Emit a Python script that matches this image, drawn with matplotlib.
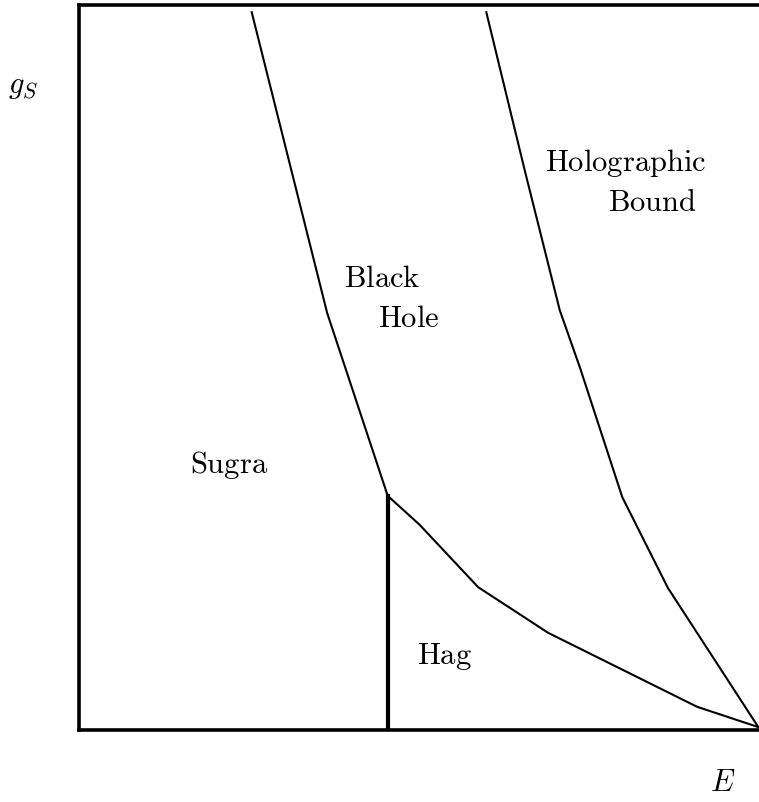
"""
Phase diagram sketch: string coupling g_S versus energy E.
"""
import matplotlib
matplotlib.use("Agg")
import matplotlib.pyplot as plt

plt.rcParams["mathtext.fontset"] = "cm"

# Black-hole / sugra boundary
bh_E = [25.4, 36.5, 45.4]
bh_g = [99.0, 57.5, 32.3]

# Hagedorn / black-hole boundary
hag_E = [45.4, 50.1, 58.7, 69.0, 90.9, 99.9]
hag_g = [32.3, 28.3, 19.7, 13.4, 3.2, 0.4]

# Holographic bound
holo_E = [59.9, 65.6, 70.7, 73.7, 79.9, 86.6, 99.9]
holo_g = [99.0, 77.0, 57.9, 49.9, 32.1, 19.6, 0.4]

# Sugra / Hag vertical divide
div_E = [45.4, 45.4]
div_g = [0.0, 32.3]

# region labels: (text, E, g)
labels = [
    ("Holographic", 80.4, 78.2),
    ("Bound", 84.3, 72.7),
    ("Black", 44.6, 62.3),
    ("Hole", 48.5, 56.8),
    ("Sugra", 22.1, 36.6),
    ("Hag", 53.8, 10.2),
]

fig = plt.figure(figsize=(7.59, 8.02), dpi=100)
ax = fig.add_axes([79 / 759, 72 / 802, 680 / 759, 725 / 802])
ax.set_xlim(0, 100)
ax.set_ylim(0, 100)

ax.plot(bh_E, bh_g, color="black", lw=1.5)
ax.plot(hag_E, hag_g, color="black", lw=1.5)
ax.plot(holo_E, holo_g, color="black", lw=1.5)
ax.plot(div_E, div_g, color="black", lw=3)

for txt, x, y in labels:
    ax.text(x, y, r"$\mathrm{%s}$" % txt, ha="center", va="center", fontsize=22)

ax.text(-8.2, 88.7, r"$g_S$", ha="center", va="center", fontsize=22, clip_on=False)
ax.text(94.6, -7.3, r"$E$", ha="center", va="center", fontsize=22, clip_on=False)

ax.set_xticks([])
ax.set_yticks([])
ax.spines["right"].set_visible(False)
for s in ("left", "top", "bottom"):
    ax.spines[s].set_linewidth(2.6)

fig.savefig("out.png", dpi=100)
